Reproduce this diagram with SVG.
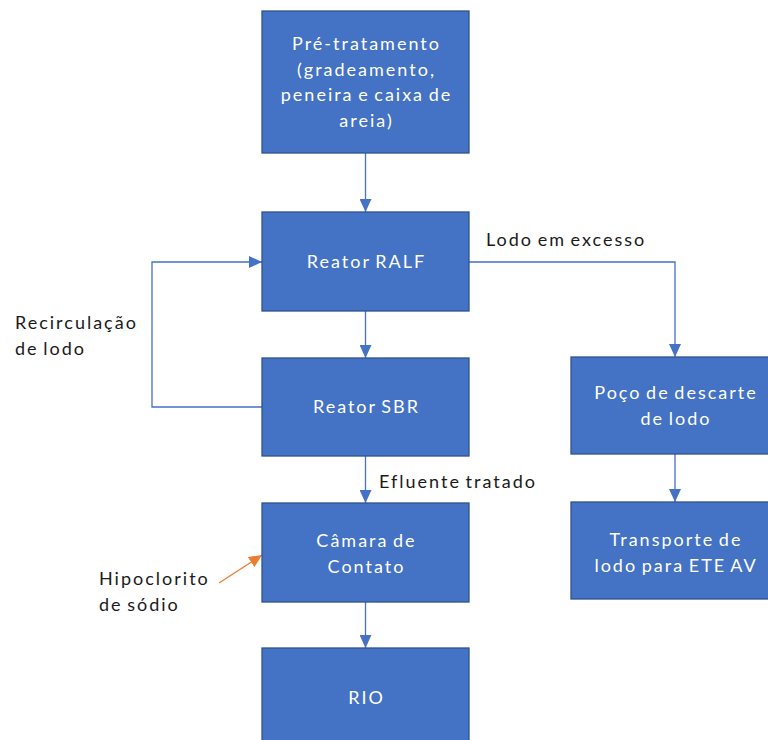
<svg xmlns="http://www.w3.org/2000/svg" width="768" height="740" viewBox="0 0 768 740">
  <style>
    .box { fill: #4472C4; stroke: #2F528F; stroke-width: 1.3; }
    .boxtxt { font-family: Lato, "Liberation Sans", sans-serif; font-size: 18px; letter-spacing: 2px; word-spacing: -2px; fill: #FFFFFF; text-anchor: middle; }
    .lbl { font-family: Lato, "Liberation Sans", sans-serif; font-size: 18px; letter-spacing: 2px; word-spacing: -2px; fill: #1A1A1A; }
    .flow { fill: none; stroke: #4472C4; stroke-width: 1.3; }
    .dose { fill: none; stroke: #ED7D31; stroke-width: 1.3; }
  </style>
  <defs>
    <marker id="arrowBlue" markerUnits="userSpaceOnUse" markerWidth="14" markerHeight="12" viewBox="0 0 14 12" refX="13" refY="6" orient="auto">
      <path d="M0,0 L13,6 L0,12 Z" fill="#4472C4"/>
    </marker>
    <marker id="arrowOrange" markerUnits="userSpaceOnUse" markerWidth="14" markerHeight="12" viewBox="0 0 14 12" refX="13" refY="6" orient="auto">
      <path d="M0,0 L13,6 L0,12 Z" fill="#ED7D31"/>
    </marker>
  </defs>
  <rect width="768" height="740" fill="#FFFFFF"/>

  <g id="connectors">
    <line class="flow" x1="365.5" y1="153" x2="365.5" y2="212" marker-end="url(#arrowBlue)"/>
    <line class="flow" x1="365.5" y1="311" x2="365.5" y2="358" marker-end="url(#arrowBlue)"/>
    <line class="flow" x1="365.5" y1="456" x2="365.5" y2="503" marker-end="url(#arrowBlue)"/>
    <line class="flow" x1="365.5" y1="602" x2="365.5" y2="648" marker-end="url(#arrowBlue)"/>
    <polyline class="flow" points="262,407 152,407 152,262 262,262" marker-end="url(#arrowBlue)"/>
    <polyline class="flow" points="469,262 675,262 675,357" marker-end="url(#arrowBlue)"/>
    <line class="flow" x1="675" y1="454" x2="675" y2="502" marker-end="url(#arrowBlue)"/>
    <line class="dose" x1="219" y1="583" x2="262" y2="555" marker-end="url(#arrowOrange)"/>
  </g>

  <g id="pre-tratamento">
    <rect class="box" x="262" y="11" width="207" height="142"/>
    <text class="boxtxt" x="366.5" y="50">Pré-tratamento</text>
    <text class="boxtxt" x="366.5" y="76">(gradeamento,</text>
    <text class="boxtxt" x="366.5" y="101">peneira e caixa de</text>
    <text class="boxtxt" x="366.5" y="127">areia)</text>
  </g>

  <g id="reator-ralf">
    <rect class="box" x="262" y="212" width="207" height="99"/>
    <text class="boxtxt" x="366.5" y="268">Reator RALF</text>
  </g>

  <g id="reator-sbr">
    <rect class="box" x="262" y="358" width="207" height="98"/>
    <text class="boxtxt" x="366.5" y="413">Reator SBR</text>
  </g>

  <g id="camara-contato">
    <rect class="box" x="262" y="503" width="207" height="99"/>
    <text class="boxtxt" x="366.5" y="547">Câmara de</text>
    <text class="boxtxt" x="366.5" y="573">Contato</text>
  </g>

  <g id="rio">
    <rect class="box" x="262" y="648" width="207" height="99"/>
    <text class="boxtxt" x="366.5" y="704">RIO</text>
  </g>

  <g id="poco-descarte">
    <rect class="box" x="571" y="357" width="207" height="97"/>
    <text class="boxtxt" x="676" y="399">Poço de descarte</text>
    <text class="boxtxt" x="676" y="425">de lodo</text>
  </g>

  <g id="transporte-lodo">
    <rect class="box" x="571" y="502" width="207" height="97"/>
    <text class="boxtxt" x="676" y="546">Transporte de</text>
    <text class="boxtxt" x="676" y="572">lodo para ETE AV</text>
  </g>

  <g id="labels">
    <text class="lbl" x="486" y="246">Lodo em excesso</text>
    <text class="lbl" x="15" y="329">Recirculação</text>
    <text class="lbl" x="15" y="355">de lodo</text>
    <text class="lbl" x="379" y="488">Efluente tratado</text>
    <text class="lbl" x="99" y="585">Hipoclorito</text>
    <text class="lbl" x="99" y="611">de sódio</text>
  </g>
</svg>
